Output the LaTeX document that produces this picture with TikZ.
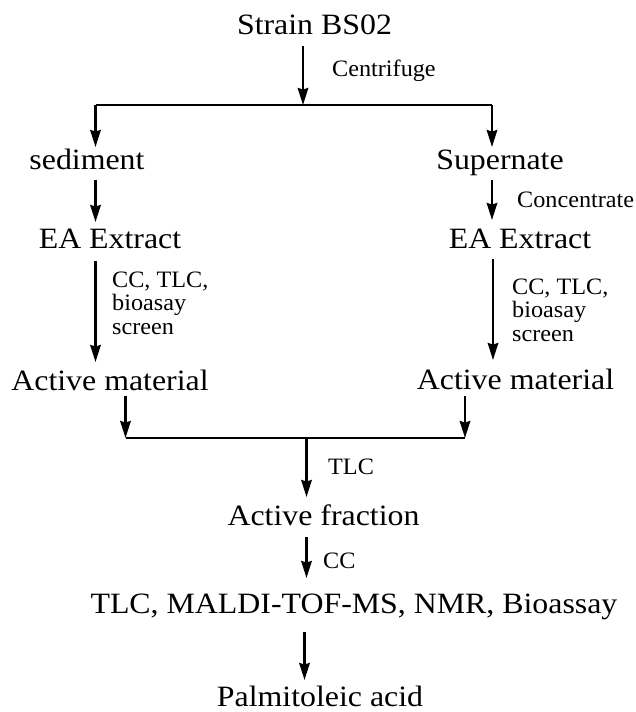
\documentclass[tikz,border=0pt]{standalone}
\usepackage{fontspec}
\usepackage{graphicx}
\setmainfont{Liberation Serif}
\usetikzlibrary{arrows.meta}
\newcommand{\bigtxt}[1]{\scalebox{1.08}[1]{\fontsize{29.5}{29.5}\selectfont #1}}
\newcommand{\smalltxt}[1]{\scalebox{1.03}[1]{\fontsize{23.5}{23.7}\selectfont\begin{tabular}[t]{@{}l@{}}#1\end{tabular}}}
\tikzset{
  big/.style={inner sep=0pt, anchor=base},
  lbl/.style={inner sep=0pt, anchor=base west},
  arr/.style={line width=2.3pt, -{Stealth[length=17pt,width=10.5pt,inset=1.5pt]}},
  bar/.style={line width=2.3pt}
}
\begin{document}
\begin{tikzpicture}[x=1pt,y=-1pt]
\useasboundingbox[fill=white] (0,0) rectangle (635,712);
% main texts
\node[big] (strain) at (314.5,34) {\bigtxt{Strain BS02}};
\node[big] (sed) at (87,169) {\bigtxt{sediment}};
\node[big] (sup) at (500,169) {\bigtxt{Supernate}};
\node[big] (eaL) at (110,248) {\bigtxt{EA Extract}};
\node[big] (eaR) at (520,248) {\bigtxt{EA Extract}};
\node[big] (amL) at (110,390) {\bigtxt{Active material}};
\node[big] (amR) at (515.5,389) {\bigtxt{Active material}};
\node[big] (frac) at (323.5,525) {\bigtxt{Active fraction}};
\node[big] (meth) at (354,613) {\bigtxt{TLC, MALDI-TOF-MS, NMR, Bioassay}};
\node[big] (palm) at (320,706) {\bigtxt{Palmitoleic acid}};
% labels
\node[lbl] (centr) at (332,76) {\smalltxt{Centrifuge}};
\node[lbl] (conc) at (517,207) {\smalltxt{Concentrate}};
\node[lbl] (ccL) at (112,287) {\smalltxt{CC, TLC,\\bioasay\\screen}};
\node[lbl] (ccR) at (512,294) {\smalltxt{CC, TLC,\\bioasay\\screen}};
\node[lbl] (tlc) at (328,474) {\smalltxt{TLC}};
\node[lbl] (cc) at (323,568) {\smalltxt{CC}};
% connector points
\coordinate (s0) at (303,46);
\coordinate (j1) at (303,105);
\coordinate (jl) at (95.5,105);
\coordinate (jr) at (492,105);
\coordinate (sedIn) at (95.5,147);
\coordinate (supIn) at (492,147);
\coordinate (sedOut) at (95.5,180);
\coordinate (eaLIn) at (95.5,222);
\coordinate (supOut) at (492,180);
\coordinate (eaRIn) at (492,220);
\coordinate (eaLOut) at (95.5,261);
\coordinate (amLIn) at (95.5,362);
\coordinate (eaROut) at (493,259);
\coordinate (amRIn) at (493,360);
\coordinate (amLOut) at (125.5,396);
\coordinate (kl) at (125.5,438);
\coordinate (amROut) at (465,396);
\coordinate (kr) at (465,438);
\coordinate (k1) at (306.5,438);
\coordinate (fracIn) at (306.5,497);
\coordinate (fracOut) at (306.5,537);
\coordinate (methIn) at (306.5,578);
\coordinate (methOut) at (304.5,632);
\coordinate (palmIn) at (304.5,680);
% connectors
\draw[arr] (s0) -- (j1);
\draw[bar] (jl) -- (jr);
\draw[arr] (jl) -- (sedIn);
\draw[arr] (jr) -- (supIn);
\draw[arr] (sedOut) -- (eaLIn);
\draw[arr] (supOut) -- (eaRIn);
\draw[arr] (eaLOut) -- (amLIn);
\draw[arr] (eaROut) -- (amRIn);
\draw[arr] (amLOut) -- (kl);
\draw[arr] (amROut) -- (kr);
\draw[bar] (kl) -- (kr);
\draw[arr] (k1) -- (fracIn);
\draw[arr] (fracOut) -- (methIn);
\draw[arr] (methOut) -- (palmIn);
\end{tikzpicture}
\end{document}
